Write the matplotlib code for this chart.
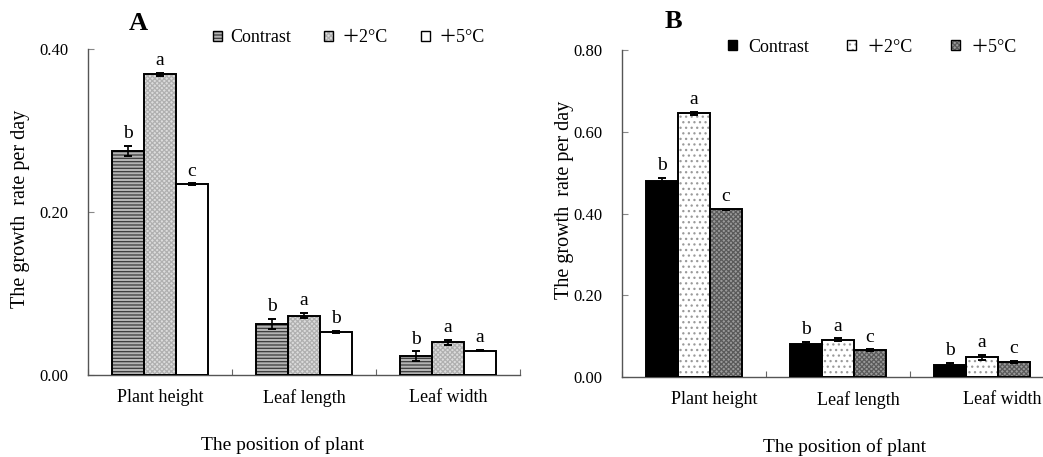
import matplotlib
matplotlib.use("Agg")
import matplotlib.pyplot as plt
import numpy as np
from matplotlib.patches import Patch
from matplotlib.transforms import ScaledTranslation

plt.rcParams.update({"font.family": ["Liberation Serif", "Noto Sans CJK SC"],
                     "hatch.linewidth": 0.9})

categories = ["Plant height", "Leaf length", "Leaf width"]
series = ["Contrast", "\uff0b2\u00b0C", "\uff0b5\u00b0C"]

# panel A values (growth rate per day) and standard errors
a_contrast = [0.275, 0.063, 0.023]
a_contrast_err = [0.006, 0.006, 0.006]
a_plus2 = [0.369, 0.073, 0.040]
a_plus2_err = [0.002, 0.003, 0.003]
a_plus5 = [0.234, 0.053, 0.030]
a_plus5_err = [0.001, 0.001, 0.001]
a_letters = [["b", "b", "b"], ["a", "a", "a"], ["c", "b", "a"]]

# panel B
b_contrast = [0.480, 0.080, 0.029]
b_contrast_err = [0.007, 0.006, 0.006]
b_plus2 = [0.645, 0.091, 0.048]
b_plus2_err = [0.004, 0.004, 0.006]
b_plus5 = [0.410, 0.066, 0.037]
b_plus5_err = [0.002, 0.002, 0.002]
b_letters = [["b", "b", "b"], ["a", "a", "a"], ["c", "c", "c"]]

# (face, hatch, hatch colour)
A_STY = [("#b4b4b4", "-----", "#3a3a3a"), ("#dcdcdc", "xxxxxxx", "#b0b0b0"), ("white", None, "white")]
B_STY = [("black", None, "black"), ("white", "...", "#9a9a9a"), ("#9a9a9a", "xxxxxxx", "#5a5a5a")]

W = 0.222
fig = plt.figure(figsize=(10.43, 4.57), dpi=100)
axA = fig.add_axes([88 / 1043, 82 / 457, 432 / 1043, 326 / 457])
axB = fig.add_axes([622 / 1043, 80 / 457, 432 / 1043, 327 / 457])


def panel(ax, vals, errs, letters, sty, ymax, label_shift):
    x = np.arange(len(categories)) + 0.5
    for i, (v, e, (fc, h, hc)) in enumerate(zip(vals, errs, sty)):
        xs = x + (i - 1) * W
        ax.bar(xs, v, W, color=fc, edgecolor=hc, hatch=h, linewidth=0, zorder=2)
        ax.bar(xs, v, W, fill=False, edgecolor="black", linewidth=1.4, zorder=3)
        ax.errorbar(xs, v, yerr=e, fmt="none", ecolor="black", elinewidth=1.2,
                    capsize=2.6, capthick=1.4, zorder=4)
        for xx, vv, ee, lt in zip(xs, v, e, letters[i]):
            ax.annotate(lt, (xx, vv + ee), xytext=(0, 5.5), textcoords="offset points",
                        ha="center", va="baseline", fontsize=14)
    ax.set_xlim(0, 3)
    ax.set_ylim(0, ymax)
    ax.set_yticks(np.linspace(0, ymax, 3 if ymax < 0.5 else 5))
    ax.yaxis.set_major_formatter(matplotlib.ticker.FormatStrFormatter("%.2f"))
    ax.set_xticks([0, 1, 2, 3])
    ax.set_xticklabels([])
    ax.set_xticks(x, minor=True)
    ax.set_xticklabels(categories, minor=True, fontsize=13)
    ax.tick_params(axis="x", which="major", direction="in", length=4, color="#666")
    ax.tick_params(axis="x", which="minor", length=0, pad=10)
    ax.tick_params(axis="y", direction="in", length=4, color="#888", labelsize=12, pad=14)
    for s in ["top", "right"]:
        ax.spines[s].set_visible(False)
    for s in ["left", "bottom"]:
        ax.spines[s].set_color("#555")
        ax.spines[s].set_linewidth(1.0)
    if label_shift:
        off = ScaledTranslation(label_shift / 100, 0, fig.dpi_scale_trans)
        for t in ax.get_xticklabels(minor=True):
            t.set_transform(t.get_transform() + off)


panel(axA, [a_contrast, a_plus2, a_plus5], [a_contrast_err, a_plus2_err, a_plus5_err],
      a_letters, A_STY, 0.40, 0)
panel(axB, [b_contrast, b_plus2, b_plus5], [b_contrast_err, b_plus2_err, b_plus5_err],
      b_letters, B_STY, 0.80, 20)


def handles(sty):
    return [(Patch(facecolor=fc, edgecolor=hc, hatch=h, linewidth=0),
             Patch(fill=False, edgecolor="black", linewidth=1.0)) for fc, h, hc in sty]


fig.legend(handles(A_STY), series, loc="center left", bbox_to_anchor=(213 / 1043, 1 - 38 / 457),
           ncol=3, frameon=False, fontsize=13, handlelength=0.5, handleheight=0.5,
           handletextpad=0.45, columnspacing=1.85, borderpad=0, borderaxespad=0)
fig.legend(handles(B_STY), series, loc="center left", bbox_to_anchor=(728 / 1043, 1 - 47 / 457),
           ncol=3, frameon=False, fontsize=13, handlelength=0.5, handleheight=0.5,
           handletextpad=0.6, columnspacing=2.1, borderpad=0, borderaxespad=0)

fig.text(138 / 1043, 1 - 23 / 457, "A", fontsize=19, fontweight="bold", ha="center", va="center")
fig.text(673 / 1043, 1 - 22 / 457, "B", fontsize=19, fontweight="bold", ha="center", va="center")

fig.text(21 / 1043, 1 - 209 / 457, "The growth  rate per day", rotation=90, fontsize=14.5,
         ha="center", va="center")
fig.text(565 / 1043, 1 - 200 / 457, "The growth  rate per day", rotation=90, fontsize=14.5,
         ha="center", va="center")
fig.text(283 / 1043, 1 - 445 / 457, "The position of plant", fontsize=14, ha="center", va="center")
fig.text(845 / 1043, 1 - 447 / 457, "The position of plant", fontsize=14, ha="center", va="center")

fig.savefig("out.png", dpi=100, facecolor="white")
